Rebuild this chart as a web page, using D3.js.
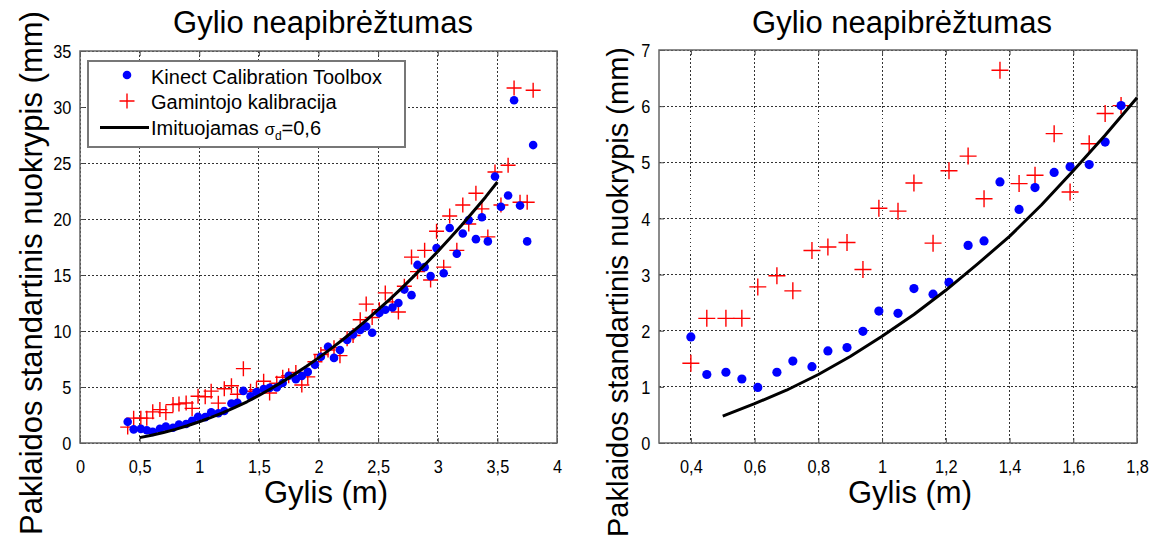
<!DOCTYPE html>
<html><head><meta charset="utf-8">
<script src="https://cdn.jsdelivr.net/npm/d3@7"></script>
<style>
body{margin:0;background:#fff;}
text{font-family:"Liberation Sans",Arial,sans-serif;fill:#000;}
</style></head><body>
<svg id="c" width="1163" height="539"></svg>
<script>
// ---- data ----
const depth = [0.40,0.45,0.51,0.56,0.61,0.67,0.72,0.78,0.83,0.89,0.94,0.99,1.05,1.10,1.16,1.21,1.27,1.32,1.37,1.43,1.48,1.54,1.59,1.65,1.70,1.75,
  1.81,1.86,1.91,1.97,2.02,2.08,2.13,2.18,2.24,2.29,2.35,2.40,2.45,2.51,2.56,2.62,2.67,2.72,2.78,2.83,2.89,2.94,2.99,3.05,3.10,3.16,3.21,3.26,3.32,3.37,3.42,3.48,3.53,3.59,3.64,3.69,3.75,3.80];
const kinect = [1.89,1.22,1.26,1.14,0.99,1.26,1.46,1.36,1.64,1.70,1.99,2.35,2.31,2.75,2.65,2.86,3.52,3.60,4.65,4.16,4.55,4.82,4.92,4.96,5.36,6.01,
  5.7,5.98,6.35,7.0,7.7,8.6,7.6,8.3,9.2,9.7,10.1,10.4,9.85,11.6,11.9,12.1,12.5,13.7,13.2,15.9,15.7,14.9,17.4,15.15,19.2,16.9,18.7,19.9,18.2,20.15,18.0,23.8,21.1,22.1,30.6,21.2,18.0,26.6];
const gamintojo = [1.42,2.22,2.22,2.22,2.78,2.98,2.71,3.43,3.49,3.57,3.09,4.18,4.13,4.63,3.56,4.85,5.11,4.35,6.64,4.62,4.77,5.51,4.47,5.33,5.87,6.01,
  6.3,5.18,5.9,7.26,7.9,8.3,8.5,7.8,9.3,9.6,11.0,12.4,11.2,11.9,13.4,12.6,11.7,14.0,16.6,15.3,17.2,14.55,18.9,15.7,20.27,17.2,21.25,19.55,22.3,20.9,18.4,24.2,21.25,24.8,31.7,21.5,21.5,31.5];
const simDepth = [0.5,0.6,0.7,0.8,0.9,1.0,1.1,1.2,1.3,1.4,1.5,1.6,1.7,1.8,1.9,2.0,2.1,2.2,2.3,2.4,2.5,2.6,2.7,2.8,2.9,3.0,3.1,3.2,3.3,3.4,3.5];
const simSigma = [0.48,0.70,0.94,1.22,1.54,1.90,2.29,2.72,3.19,3.68,4.24,4.85,5.48,6.15,6.85,7.6,8.38,9.2,10.05,10.95,11.9,12.85,13.85,14.9,16.0,17.1,18.25,19.45,20.7,21.95,23.3];
const leftXTicks = [0,0.5,1,1.5,2,2.5,3,3.5,4];
const leftYTicks = [0,5,10,15,20,25,30,35];
const rightXTicks = [0.4,0.6,0.8,1,1.2,1.4,1.6,1.8];
const rightYTicks = [0,1,2,3,4,5,6,7];
const titleText = "Gylio neapibrėžtumas";
const xLabelText = "Gylis (m)";
const yLabelText = "Paklaidos standartinis nuokrypis (mm)";
const legendLabels = ["Kinect Calibration Toolbox","Gamintojo kalibracija","Imituojamas "];

const svg = d3.select("#c");
const fmt = d => String(d).replace(".", ",");
const pts = depth.map((d,i)=>({x:d,k:kinect[i],g:gamintojo[i]}));
const sim = simDepth.map((d,i)=>({x:d,y:simSigma[i]}));

function panel(cfg){
  const w = cfg.x1-cfg.x0, h = cfg.y1-cfg.y0;
  const g = svg.append("g").attr("transform",`translate(${cfg.x0},${cfg.y0})`);
  const x = d3.scaleLinear().domain(cfg.xd).range([0,w]);
  const y = d3.scaleLinear().domain(cfg.yd).range([h,0]);
  // grid
  const gridStyle = s => s.attr("stroke","#333").attr("stroke-width",1)
    .attr("stroke-dasharray","1.5,2.5").attr("shape-rendering","crispEdges");
  g.append("g").selectAll("line").data(cfg.xt).join("line")
    .attr("x1",d=>x(d)).attr("x2",d=>x(d)).attr("y1",0).attr("y2",h).call(gridStyle);
  g.append("g").selectAll("line").data(cfg.yt).join("line")
    .attr("y1",d=>y(d)).attr("y2",d=>y(d)).attr("x1",0).attr("x2",w).call(gridStyle);
  // axes (ticks inside, MATLAB style)
  const ax = (sel)=>{ sel.select(".domain").remove(); sel.selectAll("line").attr("stroke","#444"); };
  const bx = g.append("g").attr("transform",`translate(0,${h})`)
    .call(d3.axisBottom(x).tickValues(cfg.xt).tickFormat(fmt).tickSize(-5)).call(ax);
  bx.selectAll("text").attr("y",30).attr("dy",null).style("font-size",cfg.tf+"px")
    .attr("transform","scale(0.86,1)");
  g.append("g").call(d3.axisTop(x).tickValues(cfg.xt).tickFormat("").tickSize(-5)).call(ax);
  const lx = g.append("g").call(d3.axisLeft(y).tickValues(cfg.yt).tickFormat(fmt).tickSize(-5)).call(ax);
  lx.selectAll("text").attr("x",cfg.ylx).attr("dy","0.35em").style("font-size",cfg.tf+"px")
    .attr("transform","scale(0.86,1)");
  g.append("g").attr("transform",`translate(${w},0)`)
    .call(d3.axisRight(y).tickValues(cfg.yt).tickFormat("").tickSize(-5)).call(ax);
  g.selectAll(".tick text").attr("fill","#000");
  g.append("rect").attr("width",w).attr("height",h).attr("fill","none")
    .attr("stroke","#666").attr("stroke-width",1.5);
  // data
  const data = pts.filter(p=>p.x<=cfg.xd[1]-0.02);
  const s = cfg.cs;
  g.append("g").selectAll("path").data(data).join("path")
    .attr("d",p=>`M${x(p.x)-s},${y(p.g)}H${x(p.x)+s}M${x(p.x)},${y(p.g)-s}V${y(p.g)+s}`)
    .attr("stroke","#ff0000").attr("stroke-width",1.4).attr("fill","none");
  g.append("g").selectAll("circle").data(data).join("circle")
    .attr("cx",p=>x(p.x)).attr("cy",p=>y(p.k)).attr("r",cfg.r).attr("fill","#0000ff");
  const simData = sim.filter(p=>p.x<=cfg.xd[1]+1e-9);
  g.append("path").datum(simData)
    .attr("d",d3.line().x(p=>x(p.x)).y(p=>y(p.y)))
    .attr("fill","none").attr("stroke","#000").attr("stroke-width",3).attr("stroke-linejoin","round");
  // titles
  svg.append("text").attr("x",cfg.tx).attr("y",33).attr("text-anchor","middle")
    .style("font-size","31px").text(titleText);
  svg.append("text").attr("x",cfg.lx).attr("y",503).attr("text-anchor","middle")
    .style("font-size","31px").text(xLabelText);
  svg.append("text").attr("transform",`translate(${cfg.ylabX},${cfg.ylabY}) rotate(-90)`)
    .attr("text-anchor","middle").style("font-size",cfg.ylf+"px").text(yLabelText);
  return {g,x,y};
}

panel({x0:80,x1:557,y0:51,y1:443,xd:[0,4],yd:[0,35],xt:leftXTicks,yt:leftYTicks,
  tf:19,ylx:-10,cs:7.5,r:4.3,tx:323,lx:326,ylabX:42,ylabY:273,ylf:31});
panel({x0:659,x1:1137,y0:50,y1:443,xd:[0.3,1.8],yd:[0,7],xt:rightXTicks,yt:rightYTicks,
  tf:19,ylx:-10,cs:8.5,r:4.6,tx:902,lx:910,ylabX:628,ylabY:292,ylf:29});

// legend (left panel)
const lg = svg.append("g");
lg.append("rect").attr("x",88).attr("y",61).attr("width",317).attr("height",86)
  .attr("fill","#fff").attr("stroke","#777").attr("stroke-width",2);
lg.append("circle").attr("cx",127).attr("cy",75).attr("r",4.3).attr("fill","#0000ff");
lg.append("path").attr("d","M119.5,101H134.5M127,93.5V108.5").attr("stroke","#ff0000").attr("stroke-width",1.4);
lg.append("line").attr("x1",100).attr("x2",149).attr("y1",127.5).attr("y2",127.5).attr("stroke","#000").attr("stroke-width",3);
const fs = "20px";
lg.append("text").attr("x",151).attr("y",84).style("font-size",fs).text(legendLabels[0]);
lg.append("text").attr("x",151).attr("y",109).style("font-size",fs).text(legendLabels[1]);
const t3 = lg.append("text").attr("x",151).attr("y",135).style("font-size",fs);
t3.append("tspan").text(legendLabels[2]);
t3.append("tspan").style("font-size","17px").text("σ");
t3.append("tspan").style("font-size","12px").attr("dy",5).text("d");
t3.append("tspan").attr("dy",-5).text("=0,6");
</script>
</body></html>
